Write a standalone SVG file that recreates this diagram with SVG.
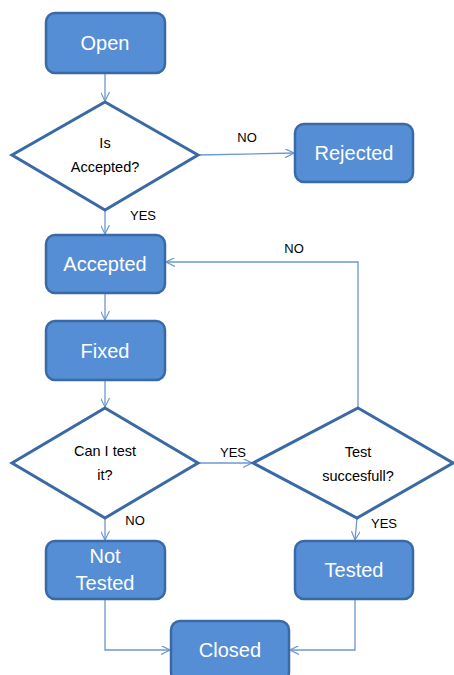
<svg xmlns="http://www.w3.org/2000/svg" width="454" height="675" viewBox="0 0 454 675">
<defs>
<style>
.box{fill:#558ed5;stroke:#3a6aa6;stroke-width:2.5}
.dia{fill:#ffffff;stroke:#3a6aa6;stroke-width:3}
.bt{font-family:"Liberation Sans",Arial,sans-serif;font-size:20px;fill:#ffffff;text-anchor:middle}
.dt{font-family:"Liberation Sans",Arial,sans-serif;font-size:14.5px;fill:#000000;text-anchor:middle}
.lb{font-family:"Liberation Sans",Arial,sans-serif;font-size:13px;fill:#000000;text-anchor:middle}
.c{fill:none;stroke:#6c98cf;stroke-width:1.3}
</style>
<marker id="ah" viewBox="0 0 10 10" refX="10" refY="5" markerWidth="9" markerHeight="9" markerUnits="userSpaceOnUse" orient="auto">
<path d="M0,0 L10,5 L0,10" fill="none" stroke="#6c98cf" stroke-width="1.3"/>
</marker>
</defs>
<rect width="454" height="675" fill="#ffffff"/>
<g id="connectors">
<line class="c" x1="105" y1="73" x2="105" y2="101" marker-end="url(#ah)"/>
<line class="c" x1="198" y1="155" x2="294" y2="153" marker-end="url(#ah)"/>
<line class="c" x1="105" y1="210" x2="105" y2="234" marker-end="url(#ah)"/>
<polyline class="c" points="358,408 358,262 166,262" marker-end="url(#ah)"/>
<line class="c" x1="105" y1="293" x2="105" y2="320" marker-end="url(#ah)"/>
<line class="c" x1="105" y1="380" x2="105" y2="407" marker-end="url(#ah)"/>
<line class="c" x1="198" y1="463" x2="252" y2="463" marker-end="url(#ah)"/>
<line class="c" x1="105" y1="518" x2="105" y2="540" marker-end="url(#ah)"/>
<line class="c" x1="357" y1="518" x2="355" y2="540" marker-end="url(#ah)"/>
<polyline class="c" points="105,599 105,650 170,650" marker-end="url(#ah)"/>
<polyline class="c" points="355,599 355,650 290,650" marker-end="url(#ah)"/>
<text class="lb" x="247" y="142">NO</text>
<text class="lb" x="143" y="220">YES</text>
<text class="lb" x="294" y="253">NO</text>
<text class="lb" x="233" y="457">YES</text>
<text class="lb" x="135" y="525">NO</text>
<text class="lb" x="384" y="528">YES</text>
</g>
<g id="open"><rect class="box" x="46" y="13" width="119" height="60" rx="9"/><text class="bt" x="105" y="50">Open</text></g>
<g id="isAccepted"><polygon class="dia" points="105,102 198,155 105,210 12,155"/><text class="dt" x="105" y="148">Is</text><text class="dt" x="105" y="172">Accepted?</text></g>
<g id="rejected"><rect class="box" x="295" y="124" width="118" height="58" rx="9"/><text class="bt" x="354" y="160">Rejected</text></g>
<g id="accepted"><rect class="box" x="46" y="235" width="119" height="58" rx="9"/><text class="bt" x="105" y="271">Accepted</text></g>
<g id="fixed"><rect class="box" x="46" y="321" width="119" height="59" rx="9"/><text class="bt" x="105" y="358">Fixed</text></g>
<g id="canTest"><polygon class="dia" points="105,408 198,463 105,518 12,463"/><text class="dt" x="105" y="456">Can I test</text><text class="dt" x="105" y="480">it?</text></g>
<g id="testSuccess"><polygon class="dia" points="358,408 453,463 357,518 253,463"/><text class="dt" x="358" y="457">Test</text><text class="dt" x="358" y="481">succesfull?</text></g>
<g id="notTested"><rect class="box" x="46" y="541" width="119" height="58" rx="9"/><text class="bt" x="105" y="563">Not</text><text class="bt" x="105" y="590">Tested</text></g>
<g id="tested"><rect class="box" x="295" y="541" width="118" height="58" rx="9"/><text class="bt" x="354" y="577">Tested</text></g>
<g id="closed"><rect class="box" x="171" y="621" width="118" height="60" rx="9"/><text class="bt" x="230" y="657">Closed</text></g>
</svg>
